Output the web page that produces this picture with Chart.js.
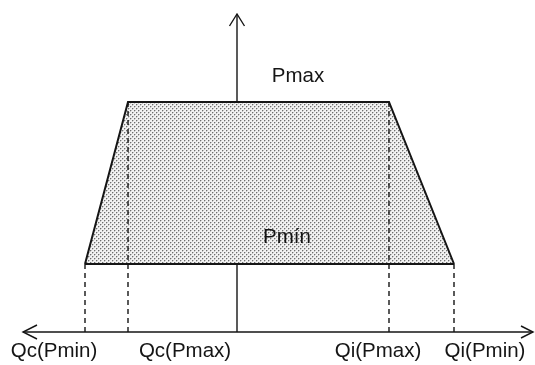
<!DOCTYPE html>
<html>
<head>
<meta charset="utf-8">
<script src="https://cdn.jsdelivr.net/npm/chart.js@4.4.1/dist/chart.umd.min.js"></script>
<style>
html,body{margin:0;padding:0;background:#fff;}
canvas{display:block;}
</style>
</head>
<body>
<canvas id="c" width="535" height="365"></canvas>
<script>
// ---- data (schematic units) ----
const categories = ['Qc(Pmin)', 'Qc(Pmax)', 'Qi(Pmax)', 'Qi(Pmin)'];
const qValues = [-15.2, -10.9, 15.2, 21.7];
const pValues = [6.8, 23, 23, 6.8];
const levelLabels = ['Pmax', 'Pmín'];
const levelValues = [23, 6.8];
const qAxisRange = [-21.4, 29.6];
const pAxisRange = [0, 31.8];

// ---- layout / style constants ----
const FONT = '20.5px "Liberation Sans", Arial, sans-serif';
const INK = '#151515';
const catLabelOffsets = [-31, 57, -11, 31];   // px from dashed line to label centre
const levelLabelOffsets = [[61, -26], [50, -27]]; // px from axis / level

function makePattern() {
  const p = document.createElement('canvas');
  p.width = 4; p.height = 4;
  const g = p.getContext('2d');
  g.fillStyle = '#f2f2f2';
  g.fillRect(0, 0, 4, 4);
  g.fillStyle = '#6e6e6e';
  g.fillRect(0, 0, 1, 1);
  g.fillRect(2, 2, 1, 1);
  g.fillStyle = '#c4c4c4';
  g.fillRect(1, 0, 1, 1);
  g.fillRect(3, 2, 1, 1);
  g.fillRect(0, 1, 1, 1);
  g.fillRect(2, 3, 1, 1);
  return document.getElementById('c').getContext('2d').createPattern(p, 'repeat');
}

const lineBase = {showLine: true, pointRadius: 0, borderColor: INK, tension: 0};

const datasets = [];
// axes
datasets.push(Object.assign({}, lineBase, {
  data: [{x: qAxisRange[0], y: 0}, {x: qAxisRange[1], y: 0}],
  borderWidth: 1.4, order: 10
}));
datasets.push(Object.assign({}, lineBase, {
  data: [{x: 0, y: pAxisRange[0]}, {x: 0, y: pAxisRange[1]}],
  borderWidth: 1.4, order: 10
}));
// trapezoid (filled down to the Pmin level)
datasets.push(Object.assign({}, lineBase, {
  data: qValues.map((q, i) => ({x: q, y: pValues[i]})),
  borderWidth: 2, backgroundColor: makePattern(),
  fill: {value: Math.min(...pValues)}, order: 5
}));
// bottom edge
datasets.push(Object.assign({}, lineBase, {
  data: [{x: qValues[0], y: pValues[0]}, {x: qValues[3], y: pValues[3]}],
  borderWidth: 2, order: 4
}));
// dashed projections
qValues.forEach((q, i) => {
  datasets.push(Object.assign({}, lineBase, {
    data: [{x: q, y: pValues[i]}, {x: q, y: 0}],
    borderWidth: 1.4, borderDash: [5, 4], order: 3
  }));
});

const decorations = {
  id: 'decorations',
  afterDatasetsDraw(chart) {
    const ctx = chart.ctx;
    const xs = chart.scales.x, ys = chart.scales.y;
    const x0 = xs.getPixelForValue(0), y0 = ys.getPixelForValue(0);
    ctx.save();
    ctx.strokeStyle = INK;
    ctx.lineWidth = 1.4;
    ctx.lineJoin = 'miter';
    // arrowheads
    const top = ys.getPixelForValue(pAxisRange[1]);
    const left = xs.getPixelForValue(qAxisRange[0]);
    const right = xs.getPixelForValue(qAxisRange[1]);
    ctx.beginPath();
    ctx.moveTo(x0 - 7.5, top + 12); ctx.lineTo(x0, top); ctx.lineTo(x0 + 7.5, top + 12);
    ctx.moveTo(left + 14, y0 - 7); ctx.lineTo(left, y0); ctx.lineTo(left + 14, y0 + 7);
    ctx.moveTo(right - 12, y0 - 6); ctx.lineTo(right, y0); ctx.lineTo(right - 12, y0 + 6);
    ctx.stroke();
    // labels
    ctx.fillStyle = INK;
    ctx.font = FONT;
    ctx.textAlign = 'center';
    ctx.textBaseline = 'alphabetic';
    categories.forEach((c, i) => {
      ctx.fillText(c, xs.getPixelForValue(qValues[i]) + catLabelOffsets[i], y0 + 25);
    });
    ctx.textBaseline = 'middle';
    levelLabels.forEach((t, i) => {
      ctx.fillText(t, x0 + levelLabelOffsets[i][0], ys.getPixelForValue(levelValues[i]) + levelLabelOffsets[i][1]);
    });
    ctx.restore();
  }
};

new Chart(document.getElementById('c'), {
  type: 'scatter',
  data: {datasets},
  options: {
    responsive: false,
    animation: false,
    devicePixelRatio: 1,
    layout: {padding: 0},
    plugins: {legend: {display: false}, tooltip: {enabled: false}},
    scales: {
      x: {type: 'linear', display: false, min: -23.7, max: 29.8},
      y: {type: 'linear', display: false, min: -3.3, max: 33.2}
    }
  },
  plugins: [decorations]
});
</script>
</body>
</html>
